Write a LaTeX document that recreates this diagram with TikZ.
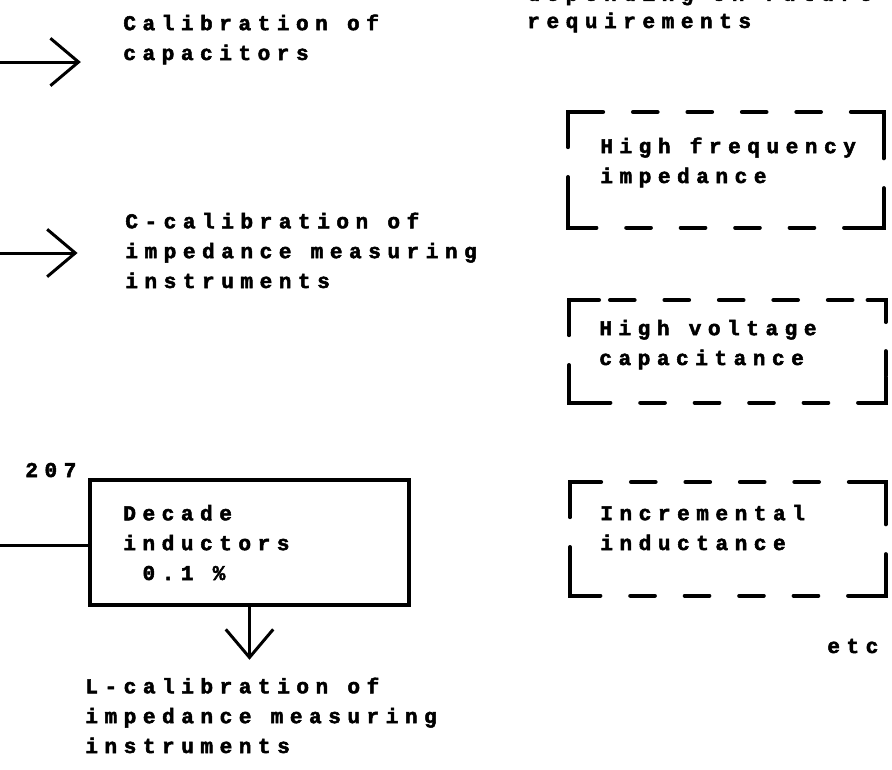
\documentclass[tikz,border=0pt]{standalone}
\usepackage{fontspec}
\newfontfamily\typewr[LetterSpace=31,FakeBold=2.4]{Liberation Mono}
\usetikzlibrary{arrows.meta,positioning,calc}

\tikzset{
  typed/.style={font=\typewr\bfseries\fontsize{12}{17}\selectfont, align=left, inner sep=0pt, anchor=base west},
  feed/.style={line width=1.7pt, -{Straight Barb[length=16pt,width=27pt,line width=1.7pt]}},
  wire/.style={line width=1.7pt},
  frame/.style={anchor=north west, inner sep=0pt},
  solidbox/.style={frame, draw, line width=2.3pt},
  dashline/.style={line width=2.3pt, line cap=round, dash pattern=on 14pt off 17pt, dash phase=-6pt},
  cornerline/.style={line width=2.3pt, line cap=round}
}

\begin{document}
\begin{tikzpicture}[x=0.02cm, y=-0.02cm]
    \useasboundingbox (0,0) rectangle (892,769);
    \clip (0,0) rectangle (892,769);

    % left column: what the standards feed
    \node (calcap) [typed] at (123,60) {Calibration of\\capacitors};
    \node (ccal) [typed] at (125,288) {C-calibration of\\impedance measuring\\instruments};

    \node (decade) [solidbox, minimum width=6.38cm, minimum height=2.5cm] at (88,478) {};
    \node (decadetxt) [typed] at (123,580) {Decade\\inductors\\\ 0.1 \%};
    \node (num) [typed] at (25,477) {207};
    \node (lcal) [typed] at (85,753) {L-calibration of\\impedance measuring\\instruments};

    \coordinate (in1) at (0,62);
    \coordinate (in2) at (0,253);
    \coordinate (in3) at (0,545);

    \draw [feed, shorten >=24pt] (in1) -- (in1 -| calcap.west);
    \draw [feed, shorten >=27pt] (in2) -- (in2 -| ccal.west);
    \draw [wire] (in3) -- (in3 -| decade.west);
    \draw [feed, shorten >=10pt] (decade.south) -- (decade.south |- lcal.north);

    % right column: possible later extensions
    \node (future) [typed] at (527,28) {depending on future\\[-1.5pt]requirements};

    \node (hfreq) [frame, minimum width=6.3cm, minimum height=2.3cm] at (568,112) {};
    \node (hvolt) [frame, minimum width=6.32cm, minimum height=2.04cm] at (569,300) {};
    \node (incind) [frame, minimum width=6.3cm, minimum height=2.26cm] at (570,482) {};

    \node (hfreqtxt) [typed] at (600,183) {High frequency\\impedance};
    \node (hvolttxt) [typed] at (599,365) {High voltage\\capacitance};
    \node (incindtxt) [typed] at (600,550) {Incremental\\inductance};

    \node (etc) [typed] at (827,653) {etc};

    \foreach \b in {hfreq,hvolt,incind}{
        \draw [dashline] (\b.north west) rectangle (\b.south east);
        \draw [cornerline] ($(\b.north west)+(0,22)$) |- ($(\b.north west)+(30,0)$);
        \draw [cornerline] ($(\b.north east)+(-18,0)$) -| ($(\b.north east)+(0,22)$);
        \draw [cornerline] ($(\b.south west)+(0,-25)$) |- ($(\b.south west)+(28,0)$);
        \draw [cornerline] ($(\b.south east)+(-22,0)$) -| ($(\b.south east)+(0,-25)$);
    }
\end{tikzpicture}
\end{document}
